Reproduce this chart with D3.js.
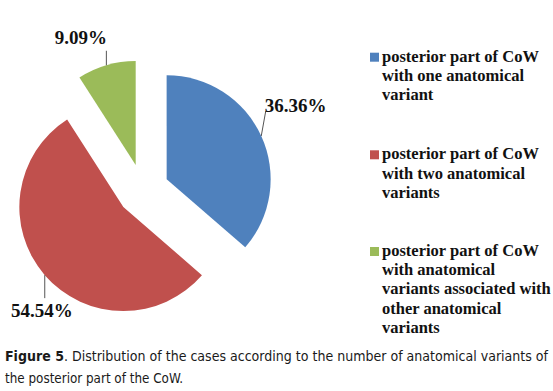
<!DOCTYPE html>
<html>
<head>
<meta charset="utf-8">
<script src="https://cdn.jsdelivr.net/npm/d3@7"></script>
<style>
  body { margin: 0; background: #fff; }
  svg { display: block; }
</style>
</head>
<body>
<svg id="chart" width="553" height="391"></svg>
<script>
// data
var categories = [
    ["posterior part of CoW", "with one anatomical", "variant"],
    ["posterior part of CoW", "with two anatomical", "variants"],
    ["posterior part of CoW", "with anatomical", "variants associated with", "other anatomical", "variants"]
];
var values = [36.36, 54.54, 9.09];
var labels = ["36.36%", "54.54%", "9.09%"];
var colors = ["#4f81bd", "#c0504d", "#9bbb59"];
var caption = ["Distribution of the cases according to the number of anatomical variants of",
               "the posterior part of the CoW."];

var svg = d3.select("#chart");

// pie layout
var cx = 143, cy = 190, radius = 104, explode = 26;

var pie = d3.pie().sort(null).startAngle(0).endAngle(2 * Math.PI);
var arc = d3.arc().innerRadius(0).outerRadius(radius);
var rim = d3.arc().innerRadius(radius).outerRadius(radius);

var arcs = pie(values);

var offset = function (d, dist) {
    var a = (d.startAngle + d.endAngle) / 2;
    return [Math.sin(a) * dist, -Math.cos(a) * dist];
};

var slices = svg.append("g")
    .attr("transform", "translate(" + cx + "," + cy + ")")
    .selectAll("g")
    .data(arcs)
    .enter().append("g")
    .attr("transform", function (d) {
        var o = offset(d, explode);
        return "translate(" + o[0] + "," + o[1] + ")";
    });

slices.append("path")
    .attr("d", arc)
    .attr("fill", function (d, i) { return colors[i]; });

// data labels with leader lines (nudge from the rim point)
var labelNudge = [
    {dx: 4.5, dy: -25, anchor: "start", tx: -1, ty: 1},
    {dx: 0, dy: 23, anchor: "middle", tx: -3, ty: 19},
    {dx: 0, dy: -14.5, anchor: "end", tx: 0.5, ty: -6.5}
];

slices.each(function (d, i) {
    var g = d3.select(this);
    var p = rim.centroid(d);
    var n = labelNudge[i];
    g.append("line")
        .attr("x1", p[0]).attr("y1", p[1])
        .attr("x2", p[0] + n.dx).attr("y2", p[1] + n.dy)
        .attr("stroke", "#555")
        .attr("stroke-width", 1);
    g.append("text")
        .attr("x", p[0] + n.dx + n.tx)
        .attr("y", p[1] + n.dy + n.ty)
        .attr("text-anchor", n.anchor)
        .attr("font-family", "Liberation Serif, Times New Roman, serif")
        .attr("font-weight", "bold")
        .attr("font-size", "19px")
        .attr("fill", "#111")
        .text(labels[i]);
});

// legend
var legendTop = [61.7, 159.3, 256];
var lineH = 19.2;

var legend = svg.append("g").selectAll("g")
    .data(categories)
    .enter().append("g");

legend.append("rect")
    .attr("x", 370)
    .attr("y", function (d, i) { return legendTop[i] - 9; })
    .attr("width", 9)
    .attr("height", 9)
    .attr("fill", function (d, i) { return colors[i]; });

legend.append("text")
    .attr("font-family", "Liberation Serif, Times New Roman, serif")
    .attr("font-weight", "bold")
    .attr("font-size", "16.5px")
    .attr("fill", "#111")
    .each(function (lines, i) {
        var t = d3.select(this);
        lines.forEach(function (s, k) {
            t.append("tspan")
                .attr("x", 382)
                .attr("y", legendTop[i] + k * lineH)
                .text(s);
        });
    });

// caption
var cap = svg.append("g")
    .attr("font-family", "DejaVu Sans Condensed, DejaVu Sans, sans-serif")
    .attr("font-size", "14px")
    .attr("fill", "#1a1a1a");

var line1 = cap.append("text").attr("x", 5).attr("y", 360.5);
line1.append("tspan").attr("font-weight", "bold").text("Figure 5");
line1.append("tspan").text(". " + caption[0]);
line1.attr("textLength", 543).attr("lengthAdjust", "spacingAndGlyphs");

cap.append("text").attr("x", 5).attr("y", 383)
    .attr("textLength", 178).attr("lengthAdjust", "spacingAndGlyphs")
    .text(caption[1]);
</script>
</body>
</html>
